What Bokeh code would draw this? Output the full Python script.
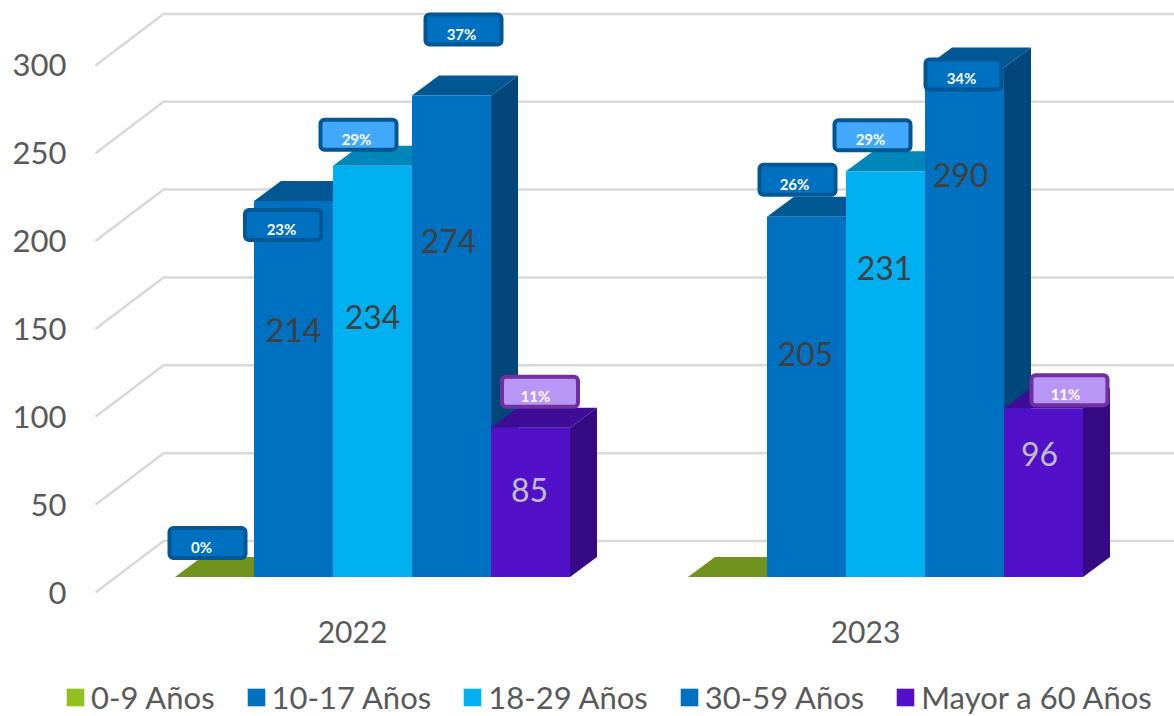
from bokeh.embed import file_html
from bokeh.resources import INLINE
from bokeh.plotting import figure
from bokeh.models import Range1d, FixedTicker, Legend, LegendItem, ColumnDataSource
from bokeh.core.properties import value

# ---- data ----
categories = ["2022", "2023"]
series_names = ["0-9 Años", "10-17 Años", "18-29 Años", "30-59 Años", "Mayor a 60 Años"]
age_0_9 = [0, 0]
age_10_17 = [214, 205]
age_18_29 = [234, 231]
age_30_59 = [274, 290]
age_60_plus = [85, 96]
pct_0_9 = ["0%", None]
pct_10_17 = ["23%", "26%"]
pct_18_29 = ["29%", "29%"]
pct_30_59 = ["37%", "34%"]
pct_60_plus = ["11%", "11%"]
y_ticks = [0, 50, 100, 150, 200, 250, 300]

# ---- styling ----
front = ["#92C01F", "#0070C0", "#00B0F0", "#0070C0", "#5310C9"]
top_c = ["#6F931C", "#005794", "#0086B8", "#005794", "#3E0C97"]
side_c = ["#5A7A16", "#00487B", "#006F99", "#00487B", "#360A85"]
box_fill = ["#0070C0", "#0070C0", "#42A9FF", "#0070C0", "#B896F5"]
box_line = ["#005794", "#005794", "#005794", "#005794", "#7030A0"]
val_col = [None, "#404040", "#404040", "#404040", "#BFBFBF"]
FONT = "Lato"

# ---- layout (pixels per unit and 3D depth) ----
PX_X, PX_Y = 513.0, 1.757
ORIGIN_X, ORIGIN_Y = 372.0, 592.0
BAR_W = 79 / PX_X
BAR_DX, BAR_DY = 27 / PX_X, 20 / PX_Y
WALL_DX, WALL_DY = 68 / PX_X, 51.5 / PX_Y
FLOOR = 15.5 / PX_Y
LABEL_SHIFT = 20 / PX_X

# offsets from each bar's top-centre, in pixels (dx, dy downwards)
box_off = [[(-7, -34), None],
           [(-10.5, 24), (-9, -37)],
           [(-14, -31), (-13, -36)],
           [(12, -66), (-1, 7)],
           [(9.5, -36), (26, -18)]]
val_off = [[None, None],
           [(0, 129), (-1, 137)],
           [(0, 151), (-1, 97)],
           [(-3, 145), (-4, 108)],
           [(-1, 62), (-4, 46)]]
pct_off = [[(-13, -30), None],
           [(-12, 28), (-12, -33)],
           [(-16, -27), (-15, -32)],
           [(10, -62), (-3, 11)],
           [(5, -32), (22, -14)]]

all_vals = [age_0_9, age_10_17, age_18_29, age_30_59, age_60_plus]
all_pct = [pct_0_9, pct_10_17, pct_18_29, pct_30_59, pct_60_plus]

p = figure(width=1174, height=716, output_backend="svg", toolbar_location=None,
           x_range=Range1d((66 - ORIGIN_X) / PX_X, (1174 - ORIGIN_X) / PX_X),
           y_range=Range1d(-(716 - ORIGIN_Y) / PX_Y, ORIGIN_Y / PX_Y),
           min_border_left=66, min_border_right=0, min_border_top=0, min_border_bottom=0,
           background_fill_color="white", border_fill_color="white")
p.outline_line_color = None
p.grid.visible = False

# axes
ya, xa = p.yaxis[0], p.xaxis[0]
ya.ticker = FixedTicker(ticks=y_ticks)
ya.axis_line_color = None
ya.major_tick_line_color = None
ya.minor_tick_line_color = None
ya.major_tick_in = 0
ya.major_tick_out = 0
ya.major_label_standoff = 0
ya.major_label_text_font = FONT
ya.major_label_text_font_size = "31px"
ya.major_label_text_color = "#595959"

cat_ticks = [i - LABEL_SHIFT for i in range(len(categories))]
xa.ticker = FixedTicker(ticks=cat_ticks)
xa.major_label_overrides = {t: c for t, c in zip(cat_ticks, categories)}
xa.axis_line_color = None
xa.major_tick_line_color = None
xa.minor_tick_line_color = None
xa.major_tick_in = 0
xa.major_tick_out = 0
xa.major_label_standoff = -96
xa.major_label_text_font = FONT
xa.major_label_text_font_size = "30px"
xa.major_label_text_color = "#595959"

# walls: side diagonals and back gridlines
x0 = (95 - ORIGIN_X) / PX_X
xe = p.x_range.end
for t in y_ticks:
    p.line([x0, x0 + WALL_DX, xe], [t, t + WALL_DY, t + WALL_DY], line_color="#D9D9D9", line_width=2.5)

# bars
legend_items = []
box_rows = dict(l=[], r=[], t=[], b=[], fill=[], line=[])
txt_rows = dict(x=[], y=[], t=[], xo=[], yo=[], c=[])
pct_rows = dict(x=[], y=[], t=[], xo=[], yo=[])
for j, vals in enumerate(all_vals):
    lefts = [i + (j - 2.5) * BAR_W for i in range(len(vals))]
    rights = [l + BAR_W for l in lefts]
    tops = [v + FLOOR for v in vals]
    p.patches([[r, r + BAR_DX, r + BAR_DX, r] for r in rights],
              [[FLOOR, FLOOR + BAR_DY, t + BAR_DY, t] for t in tops],
              fill_color=side_c[j], line_color=None)
    p.patches([[l, l + BAR_DX, r + BAR_DX, r] for l, r in zip(lefts, rights)],
              [[t, t + BAR_DY, t + BAR_DY, t] for t in tops],
              fill_color=top_c[j], line_color=None)
    fr = p.quad(left=lefts, right=rights, bottom=[FLOOR] * len(vals), top=tops,
                fill_color=front[j], line_color=None)
    legend_items.append(LegendItem(label=series_names[j], renderers=[fr]))
    for i, v in enumerate(vals):
        cx = (lefts[i] + rights[i]) / 2
        if val_off[j][i]:
            dx, dy = val_off[j][i]
            txt_rows["x"].append(cx); txt_rows["y"].append(tops[i]); txt_rows["t"].append(str(v))
            txt_rows["xo"].append(dx); txt_rows["yo"].append(dy); txt_rows["c"].append(val_col[j])
        if box_off[j][i]:
            dx, dy = box_off[j][i]
            bx, by = cx + dx / PX_X, tops[i] - dy / PX_Y
            box_rows["l"].append(bx - 38 / PX_X); box_rows["r"].append(bx + 38 / PX_X)
            box_rows["t"].append(by + 15 / PX_Y); box_rows["b"].append(by - 15 / PX_Y)
            box_rows["fill"].append(box_fill[j]); box_rows["line"].append(box_line[j])
            dx, dy = pct_off[j][i]
            pct_rows["x"].append(cx); pct_rows["y"].append(tops[i]); pct_rows["t"].append(all_pct[j][i])
            pct_rows["xo"].append(dx); pct_rows["yo"].append(dy)

p.text("x", "y", text="t", x_offset="xo", y_offset="yo", text_color="c", source=ColumnDataSource(txt_rows),
       text_font=value(FONT), text_font_size="32px", text_align="center", text_baseline="middle")
p.quad(left="l", right="r", top="t", bottom="b", fill_color="fill", line_color="line", line_width=4,
       border_radius=4, source=ColumnDataSource(box_rows))
p.text("x", "y", text="t", x_offset="xo", y_offset="yo", text_color="white", source=ColumnDataSource(pct_rows),
       text_font=value(FONT), text_font_size="15px", text_font_style="bold", text_align="center", text_baseline="middle")

legend = Legend(items=legend_items, orientation="horizontal", location=(-2, 0),
                glyph_width=22, glyph_height=22, label_standoff=5, spacing=30,
                label_text_font=FONT, label_text_font_size="31px", label_text_color="#595959",
                padding=0, margin=0, border_line_color=None, background_fill_alpha=0)
p.add_layout(legend, "center")

open("out.html", "w").write(file_html(p, INLINE))
